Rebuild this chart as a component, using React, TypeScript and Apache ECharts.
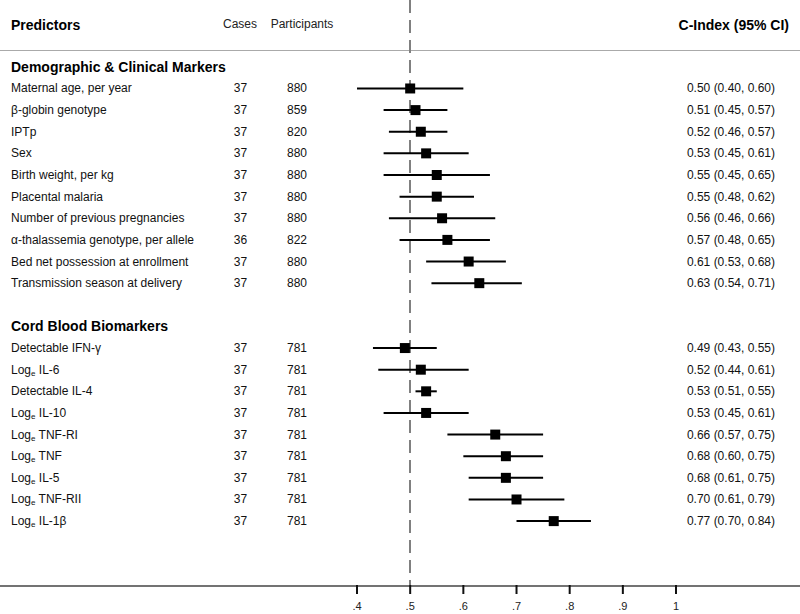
import React, { useEffect, useRef } from "react";
import * as echarts from "echarts";

const demoNames = [
  "Maternal age, per year",
  "β-globin genotype",
  "IPTp",
  "Sex",
  "Birth weight, per kg",
  "Placental malaria",
  "Number of previous pregnancies",
  "α-thalassemia genotype, per allele",
  "Bed net possession at enrollment",
  "Transmission season at delivery",
];
const demoCases = [37, 37, 37, 37, 37, 37, 37, 36, 37, 37];
const demoParticipants = [880, 859, 820, 880, 880, 880, 880, 822, 880, 880];
const demoEst = [0.5, 0.51, 0.52, 0.53, 0.55, 0.55, 0.56, 0.57, 0.61, 0.63];
const demoLow = [0.4, 0.45, 0.46, 0.45, 0.45, 0.48, 0.46, 0.48, 0.53, 0.54];
const demoHigh = [0.6, 0.57, 0.57, 0.61, 0.65, 0.62, 0.66, 0.65, 0.68, 0.71];

const bioNames = [
  "Detectable IFN-γ",
  "Log{sub|e} IL-6",
  "Detectable IL-4",
  "Log{sub|e} IL-10",
  "Log{sub|e} TNF-RI",
  "Log{sub|e} TNF",
  "Log{sub|e} IL-5",
  "Log{sub|e} TNF-RII",
  "Log{sub|e} IL-1β",
];
const bioCases = [37, 37, 37, 37, 37, 37, 37, 37, 37];
const bioParticipants = [781, 781, 781, 781, 781, 781, 781, 781, 781];
const bioEst = [0.49, 0.52, 0.53, 0.53, 0.66, 0.68, 0.68, 0.7, 0.77];
const bioLow = [0.43, 0.44, 0.51, 0.45, 0.57, 0.6, 0.61, 0.61, 0.7];
const bioHigh = [0.55, 0.61, 0.55, 0.61, 0.75, 0.75, 0.75, 0.79, 0.84];

const groupTitles = ["Demographic & Clinical Markers", "Cord Blood Biomarkers"];
const tickValues = [0.4, 0.5, 0.6, 0.7, 0.8, 0.9, 1.0];
const referenceValue = 0.5;

const FONT = "'Liberation Sans', Arial, Helvetica, sans-serif";
const Y_MIN = -4.09;
const Y_MAX = 23;
const X_MIN = -0.2715;
const X_MAX = 1.2332;

type Row = {
  slot: number;
  name: string;
  cases: number;
  participants: number;
  est: number;
  lo: number;
  hi: number;
};

function buildRows(): Row[] {
  const rows: Row[] = [];
  demoNames.forEach((n, i) =>
    rows.push({
      slot: i,
      name: n,
      cases: demoCases[i],
      participants: demoParticipants[i],
      est: demoEst[i],
      lo: demoLow[i],
      hi: demoHigh[i],
    })
  );
  const bioStart = demoNames.length + 2;
  bioNames.forEach((n, i) =>
    rows.push({
      slot: bioStart + i,
      name: n,
      cases: bioCases[i],
      participants: bioParticipants[i],
      est: bioEst[i],
      lo: bioLow[i],
      hi: bioHigh[i],
    })
  );
  return rows;
}

export default function App() {
  const ref = useRef<HTMLDivElement>(null);

  useEffect(() => {
    if (!ref.current) return;
    const chart = echarts.init(ref.current, undefined, { renderer: "svg" });
    const rows = buildRows();
    const headers = [
      { label: groupTitles[0], slot: -1 },
      { label: groupTitles[1], slot: demoNames.length + 1 },
    ];
    const fmt = (v: number) => v.toFixed(2);

    const option: any = {
      animation: false,
      grid: { left: 0, right: 0, top: 0, bottom: 28, containLabel: false, outerBoundsMode: "none" },
      xAxis: {
        type: "value",
        min: X_MIN,
        max: X_MAX,
        splitLine: { show: false },
        axisLine: { show: true, onZero: false, lineStyle: { color: "#444", width: 1.5 } },
        axisTick: { show: false },
        axisLabel: {
          show: true,
          customValues: tickValues,
          fontSize: 11,
          fontFamily: FONT,
          color: "#222",
          margin: 14,
          formatter: (v: number) =>
            Math.abs(v - 1) < 1e-9 ? "1" : "." + Math.round(v * 10),
        },
      },
      yAxis: { type: "value", min: Y_MIN, max: Y_MAX, inverse: true, show: false },
      graphic: [
        {
          type: "line",
          shape: { x1: 0, y1: 50.5, x2: 800, y2: 50.5 },
          style: { stroke: "#aaa", lineWidth: 1 },
          z: 1,
        },
        {
          type: "text",
          x: 11,
          y: 25,
          style: { text: "Predictors", font: `bold 14px ${FONT}`, fill: "#000", align: "left", verticalAlign: "middle" },
        },
        {
          type: "text",
          x: 240,
          y: 24,
          style: { text: "Cases", font: `12px ${FONT}`, fill: "#222", align: "center", verticalAlign: "middle" },
        },
        {
          type: "text",
          x: 302,
          y: 24,
          style: { text: "Participants", font: `12px ${FONT}`, fill: "#222", align: "center", verticalAlign: "middle" },
        },
        {
          type: "text",
          x: 789,
          y: 25,
          style: { text: "C-Index (95% CI)", font: `bold 14px ${FONT}`, fill: "#000", align: "right", verticalAlign: "middle" },
        },
      ],
      series: [
        {
          type: "custom",
          name: "ticks",
          data: tickValues.map((v) => [v, Y_MAX]),
          clip: false,
          z: 10,
          renderItem: (_p: any, api: any) => {
            const c = api.coord([api.value(0), api.value(1)]);
            return {
              type: "line",
              z2: 100,
              shape: { x1: c[0], y1: c[1] - 1, x2: c[0], y2: c[1] + 8 },
              style: { stroke: "#111", lineWidth: 2 },
            };
          },
        },
        {
          type: "custom",
          name: "ci",
          data: rows.map((r) => [r.lo, r.hi, r.slot]),
          encode: { x: [0, 1], y: 2 },
          renderItem: (_p: any, api: any) => {
            const s = api.coord([api.value(0), api.value(2)]);
            const e = api.coord([api.value(1), api.value(2)]);
            return {
              type: "line",
              shape: { x1: s[0], y1: s[1], x2: e[0], y2: e[1] },
              style: { stroke: "#000", lineWidth: 2 },
            };
          },
          z: 3,
        },
        {
          type: "scatter",
          name: "est",
          data: rows.map((r) => [r.est, r.slot]),
          symbol: "rect",
          symbolSize: 10,
          itemStyle: { color: "#000", opacity: 1 },
          z: 4,
          markLine: {
            silent: true,
            symbol: ["none", "none"],
            label: { show: false },
            lineStyle: { type: [13, 7], color: "#808080", width: 2, opacity: 1 },
            data: [{ xAxis: referenceValue }],
            z: 2,
          },
        },
        {
          type: "custom",
          name: "labels",
          data: rows.map((r) => [0, r.slot]),
          encode: { x: 0, y: 1 },
          renderItem: (p: any, api: any) => {
            const r = rows[p.dataIndex];
            const y = api.coord([0, r.slot])[1];
            const base = { fill: "#111", fontSize: 12, fontFamily: FONT, verticalAlign: "middle" };
            return {
              type: "group",
              children: [
                {
                  type: "text",
                  x: 11,
                  y,
                  style: {
                    ...base,
                    text: r.name,
                    align: "left",
                    rich: { sub: { fontSize: 8, fontFamily: FONT, fill: "#111", padding: [7, 0, 0, 0] } },
                  },
                },
                { type: "text", x: 240.5, y, style: { ...base, text: String(r.cases), align: "center" } },
                { type: "text", x: 297, y, style: { ...base, text: String(r.participants), align: "center" } },
                {
                  type: "text",
                  x: 775,
                  y,
                  style: { ...base, text: `${fmt(r.est)} (${fmt(r.lo)}, ${fmt(r.hi)})`, align: "right" },
                },
              ],
            };
          },
          z: 5,
        },
        {
          type: "custom",
          name: "groups",
          data: headers.map((h) => [0, h.slot]),
          encode: { x: 0, y: 1 },
          renderItem: (p: any, api: any) => {
            const h = headers[p.dataIndex];
            const y = api.coord([0, h.slot])[1];
            return {
              type: "text",
              x: 11,
              y,
              style: { text: h.label, font: `bold 14px ${FONT}`, fill: "#000", align: "left", verticalAlign: "middle" },
            };
          },
          z: 5,
        },
      ],
    };
    chart.setOption(option);
    return () => chart.dispose();
  }, []);

  return (
    <div
      ref={ref}
      style={{ position: "fixed", left: 0, top: 0, width: 800, height: 614, background: "#fff" }}
    />
  );
}
